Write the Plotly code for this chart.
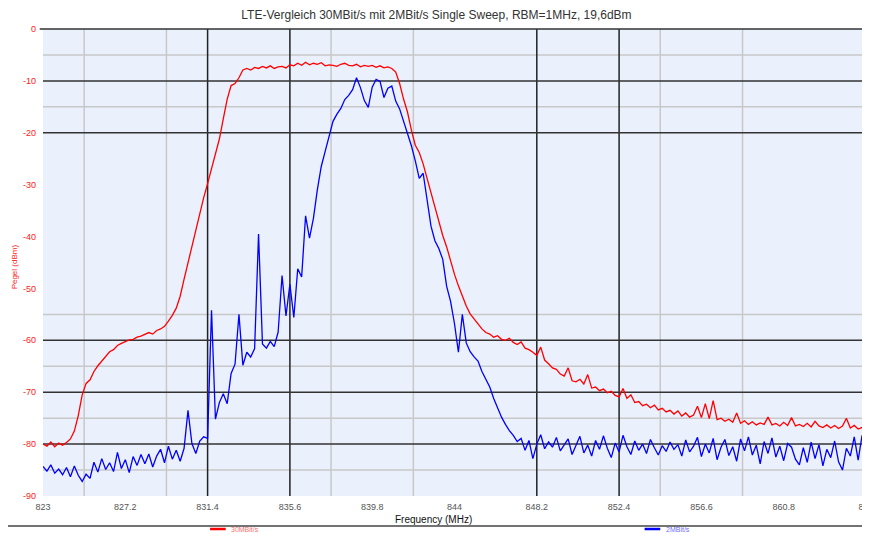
import numpy as np
import plotly.graph_objects as go

# Sweep grid: 823 .. 865 MHz in 0.2 MHz steps
freq = np.round(np.linspace(823.0, 865.0, 211), 1)

red_30mbit = [
    -80.0, -80.4, -79.6, -80.5, -79.8, -80.2, -79.7, -79.0, -77.5, -74.5,
    -70.5, -68.3, -67.6, -66.0, -64.9, -64.0, -63.0, -62.2, -61.8, -61.0,
    -60.6, -60.2, -59.9, -59.8, -59.4, -59.2, -58.9, -58.5, -58.8, -58.1,
    -57.8, -57.3, -56.3, -55.2, -53.8, -51.5, -48.2, -45.0, -41.8, -38.8,
    -35.6, -32.5, -29.8, -26.8, -24.0, -21.2, -17.3, -13.5, -10.9, -10.5,
    -9.4, -7.9, -7.6, -7.9, -7.4, -7.6, -7.2, -7.5, -7.1, -7.6,
    -7.3, -7.2, -7.5, -6.9, -7.1, -6.6, -7.0, -6.4, -6.9, -6.6,
    -6.8, -6.5, -7.1, -6.9, -7.0, -7.2, -6.8, -6.6, -7.0, -7.1,
    -6.8, -7.3, -7.0, -7.2, -7.0, -7.4, -7.1, -7.5, -7.3, -7.6,
    -8.3, -10.5, -13.5, -16.0, -19.5, -22.4, -23.8, -26.0, -28.8, -31.6,
    -34.5, -37.3, -39.8, -42.0, -44.8, -47.3, -49.5, -51.6, -53.4, -54.9,
    -55.9, -56.8, -57.8, -58.5, -58.8, -59.4, -59.1, -59.8, -60.0, -59.6,
    -60.4, -60.8, -60.3, -61.5, -61.8, -62.3, -62.9, -61.3, -63.8, -64.5,
    -65.3, -65.6, -66.5, -66.9, -65.3, -67.8, -68.0, -67.5, -68.4, -66.6,
    -69.2, -69.0, -69.7, -69.4, -70.1, -69.8, -70.6, -70.9, -69.3, -71.2,
    -70.5, -72.0, -71.8, -72.6, -72.3, -73.0, -72.5, -73.4, -73.1, -73.8,
    -73.5, -74.2, -73.6, -74.6, -74.0, -74.8, -74.4, -72.7, -74.9, -72.2,
    -75.1, -71.6, -75.3, -75.0, -75.6, -75.2, -75.8, -74.0, -76.0, -75.5,
    -76.2, -75.7, -76.3, -75.9, -76.2, -74.8, -76.3, -76.0, -76.5, -75.8,
    -76.4, -74.9, -76.5, -76.2, -76.6, -76.0, -76.7, -75.6, -76.5, -76.8,
    -76.3, -76.9, -76.4, -77.0, -76.5, -75.0, -76.9, -76.4, -77.1, -76.8,
    -77.3,
]

blue_2mbit = [
    -84.3, -85.2, -84.0, -85.6, -84.8, -85.9, -84.5, -86.3, -84.2, -86.0,
    -87.2, -85.8, -86.6, -83.5, -85.4, -82.8, -84.9, -83.6, -85.3, -81.6,
    -84.7, -83.0, -85.5, -82.4, -84.1, -82.0, -83.8, -81.9, -84.4, -82.3,
    -81.0, -83.6, -80.4, -82.9, -81.2, -83.3, -80.8, -73.5, -79.9, -81.8,
    -79.4, -78.6, -78.9, -54.2, -75.2, -72.0, -70.3, -72.2, -66.4, -64.6,
    -55.0, -64.8, -62.3, -63.2, -61.6, -39.5, -60.7, -61.5, -60.2, -61.2,
    -58.4, -47.5, -55.3, -49.2, -55.6, -46.2, -47.8, -36.0, -40.3, -36.5,
    -31.0, -26.5, -23.6, -20.8, -17.8, -16.4, -15.3, -13.6, -12.8, -11.7,
    -9.4, -11.3, -13.8, -15.1, -11.2, -9.7, -10.1, -13.2, -11.4, -11.0,
    -13.9, -15.4, -17.8, -20.3, -22.5, -25.4, -28.8, -27.8, -33.2, -38.0,
    -40.8, -42.3, -44.4, -49.6, -52.5, -56.8, -62.3, -55.0, -60.5, -62.2,
    -63.2, -64.0, -66.0, -67.4, -69.0, -71.2, -73.2, -74.8, -76.2, -77.4,
    -78.3, -79.5, -78.9, -81.2, -79.3, -82.8, -80.0, -78.2, -80.9, -79.6,
    -80.6, -78.7, -81.3, -80.1, -79.0, -82.0, -80.4, -78.5, -81.7, -80.2,
    -82.3, -79.3, -81.0, -78.4, -80.8, -82.6, -79.8, -81.5, -78.3, -80.5,
    -82.0, -79.4, -81.2, -80.0, -81.8, -79.1, -80.7, -82.1, -80.3, -81.4,
    -79.6, -81.0, -80.1, -82.3, -79.2, -81.5, -80.4, -78.7, -82.4, -80.0,
    -81.7, -78.9, -83.0, -80.6, -79.1, -82.2, -80.5, -83.3, -79.0, -81.3,
    -78.6, -82.1, -80.2, -83.8, -79.5, -81.8, -78.8, -82.5, -80.4, -83.2,
    -79.9, -80.6, -82.9, -84.0, -80.7, -83.5, -79.6, -82.8, -80.1, -84.2,
    -81.0, -82.6, -79.4, -83.4, -85.0, -80.8, -82.3, -78.6, -83.1, -78.3,
    -81.9,
]

series_names = ["30MBit/s", "2MBit/s"]
series_colors = ["#FF0000", "#0000FF"]

x_ticks = [823, 827.2, 831.4, 835.6, 839.8, 844, 848.2, 852.4, 856.6, 860.8, 865]
x_tick_labels = ["823", "827.2", "831.4", "835.6", "839.8", "844", "848.2",
                 "852.4", "856.6", "860.8", "865"]
y_ticks = [0, -10, -20, -30, -40, -50, -60, -70, -80, -90]
y_tick_labels = ["0", "-10", "-20", "-30", "-40", "-50", "-60", "-70", "-80", "-90"]

grid_x_major = [831.4, 835.6, 848.2, 852.4]
grid_x_minor = [825.1, 829.3, 837.7, 841.9, 854.5, 858.7]
grid_y_major = [-10, -20, -60, -70, -80]
grid_y_minor = [-5, -15, -55, -65, -75, -85]

FONT = "Liberation Sans, Arial, sans-serif"

fig = go.Figure()
fig.add_trace(go.Scatter(x=freq, y=red_30mbit, mode="lines", name=series_names[0],
                         line=dict(color=series_colors[0], width=1.3)))
fig.add_trace(go.Scatter(x=freq, y=blue_2mbit, mode="lines", name=series_names[1],
                         line=dict(color=series_colors[1], width=1.3)))

shapes = []
for v in grid_x_minor:
    shapes.append(dict(type="line", xref="x", yref="paper", x0=v, x1=v, y0=0, y1=1,
                       line=dict(color="#C8C8C8", width=1.5), layer="below"))
for v in grid_y_minor:
    shapes.append(dict(type="line", xref="paper", yref="y", x0=0, x1=1, y0=v, y1=v,
                       line=dict(color="#C8C8C8", width=1.5), layer="below"))
for v in grid_x_major:
    shapes.append(dict(type="line", xref="x", yref="paper", x0=v, x1=v, y0=0, y1=1,
                       line=dict(color="#222222", width=1.5), layer="below"))
for v in grid_y_major:
    shapes.append(dict(type="line", xref="paper", yref="y", x0=0, x1=1, y0=v, y1=v,
                       line=dict(color="#333333", width=1.5), layer="below"))
# top border and right border
shapes.append(dict(type="line", xref="paper", yref="paper", x0=-0.004, x1=1, y0=1, y1=1,
                   line=dict(color="#333333", width=1.5)))
shapes.append(dict(type="line", xref="paper", yref="paper", x0=1, x1=1, y0=0, y1=1,
                   line=dict(color="#444444", width=1.5)))
# separator line above legend
shapes.append(dict(type="line", xref="paper", yref="paper", x0=-0.044, x1=1.01,
                   y0=-0.064, y1=-0.064, line=dict(color="#444444", width=1.5)))

# manual legend (bottom strip)
legend_x = [0.203, 0.731]
annotations = [
    dict(text="Frequency (MHz)", xref="paper", yref="paper", x=0.475, y=-0.051,
         xanchor="center", yanchor="middle", showarrow=False,
         font=dict(size=10, color="#111111", family=FONT)),
    dict(text="Pegel (dBm)", xref="paper", yref="paper", x=-0.035, y=0.49,
         xanchor="center", yanchor="middle", showarrow=False, textangle=-90,
         font=dict(size=8, color="#FF2020", family=FONT)),
]
for lx, name, col in zip(legend_x, series_names, series_colors):
    shapes.append(dict(type="line", xref="paper", yref="paper", x0=lx, x1=lx + 0.019,
                       y0=-0.0707, y1=-0.0707, line=dict(color=col, width=2.5)))
    annotations.append(dict(text=name, xref="paper", yref="paper", x=lx + 0.023,
                            y=-0.0707, xanchor="left", yanchor="middle", showarrow=False,
                            font=dict(size=7, color=col, family=FONT), opacity=0.6))

# page body has an 8px margin; margins are set so the plot area lands at
# x 43..866, y 29..496 in the 870x533 window
fig.update_layout(
    width=870, height=533,
    margin=dict(l=35, r=12, t=21, b=45, autoexpand=False),
    paper_bgcolor="white",
    plot_bgcolor="#EAF0FC",
    font=dict(family=FONT),
    title=dict(text="LTE-Vergleich 30MBit/s mit 2MBit/s Single Sweep, RBM=1MHz, 19,6dBm",
               x=0.4925, xanchor="center", y=0.988, yanchor="middle",
               font=dict(size=12, color="#333333", family=FONT)),
    xaxis=dict(range=[823, 865], tickvals=x_ticks, ticktext=x_tick_labels,
               showgrid=False, zeroline=False, showline=False, ticks="",
               automargin=False,
               tickfont=dict(size=9, color="#555555"), ticklabelstandoff=4),
    yaxis=dict(range=[-90, 0], tickvals=y_ticks, ticktext=y_tick_labels,
               showgrid=False, zeroline=False, showline=False, ticks="",
               automargin=False,
               tickfont=dict(size=9, color="#FF2020"), ticklabelstandoff=6),
    shapes=shapes,
    annotations=annotations,
    showlegend=False,
)

fig.write_html("out.html")
